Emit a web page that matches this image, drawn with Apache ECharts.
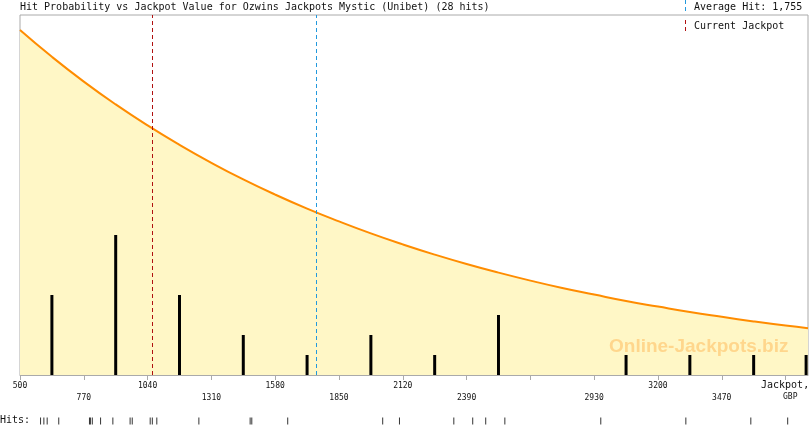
<!DOCTYPE html>
<html><head><meta charset="utf-8">
<script src="https://cdn.jsdelivr.net/npm/echarts@6/dist/echarts.min.js"></script>
<style>html,body{margin:0;padding:0;background:#fff}#c{width:810px;height:425px}</style>
</head><body><div id="c"></div>
<script>
const titleText = 'Hit Probability vs Jackpot Value for Ozwins Jackpots Mystic (Unibet) (28 hits)';
const averageHit = 1755;
const currentJackpot = 1060;
const xMin = 500, xMax = 3835;
const tickValues = [500, 770, 1040, 1310, 1580, 1850, 2120, 2390, 2660, 2930, 3200, 3470, 3740];
const tickLabels = ['500', '770', '1040', '1310', '1580', '1850', '2120', '2390', '', '2930', '3200', '3470', ''];
const binCenters = [635, 905, 1175, 1445, 1715, 1985, 2255, 2525, 3065, 3335, 3605, 3827];
const binCounts = [4, 7, 4, 2, 1, 2, 1, 3, 1, 1, 1, 1];
const curveX = [500, 635, 770, 905, 1040, 1175, 1310, 1445, 1580, 1715, 1850, 1985, 2120, 2255, 2390, 2525, 2660, 2795, 2930, 3065, 3200, 3335, 3470, 3605, 3740, 3835];
const curveY = [17.25, 15.91, 14.67, 13.53, 12.48, 11.51, 10.61, 9.78, 9.02, 8.32, 7.68, 7.08, 6.53, 6.02, 5.55, 5.12, 4.72, 4.35, 4.02, 3.70, 3.42, 3.15, 2.91, 2.68, 2.47, 2.34];
const hitValues = [587, 601, 615, 664, 794, 798, 806, 841, 893, 966, 975, 1051, 1060, 1079, 1257, 1474, 1481, 1633, 2035, 2106, 2336, 2416, 2471, 2552, 2958, 3318, 3593, 3749];

const mono = 'DejaVu Sans Mono';
const chart = echarts.init(document.getElementById('c'), null, {renderer: 'canvas'});
chart.setOption({
  animation: false,
  grid: [
    {left: 20, right: 2, top: 15, bottom: 50, show: true, borderColor: '#aaaaaa', borderWidth: 1, backgroundColor: 'transparent'},
    {left: 20, right: 2, top: 417, height: 8, show: false}
  ],
  xAxis: [
    {type: 'value', gridIndex: 0, min: xMin, max: xMax,
     axisLine: {show: true, lineStyle: {color: '#aaaaaa'}},
     splitLine: {show: false},
     axisTick: {show: true, length: 5, lineStyle: {color: '#aaaaaa'}, customValues: tickValues},
     axisLabel: {show: true, customValues: tickValues, margin: 5, fontFamily: mono, fontSize: 8, color: '#111', lineHeight: 12,
       formatter: function (v) {
         const i = tickValues.indexOf(v);
         if (i < 0) return '';
         return (i % 2 === 1 ? '\n' : '') + tickLabels[i];
       }}},
    {type: 'value', gridIndex: 1, min: xMin, max: xMax, show: false}
  ],
  yAxis: [
    {type: 'value', gridIndex: 0, min: 0, max: 18, show: false, splitLine: {show: false}},
    {type: 'value', gridIndex: 1, min: 0, max: 1, show: false, splitLine: {show: false}}
  ],
  series: [
    {type: 'line', xAxisIndex: 0, yAxisIndex: 0, smooth: 0.5, symbol: 'none', z: 2,
     data: curveX.map((x, i) => [x, curveY[i]]),
     lineStyle: {color: '#ff8c00', width: 2},
     areaStyle: {color: '#fff7c6', opacity: 1},
     markLine: {silent: true, symbol: 'none', label: {show: false},
       data: [
         {xAxis: currentJackpot, lineStyle: {color: '#b01010', type: [4, 3], width: 1}},
         {xAxis: averageHit, lineStyle: {color: '#2299dd', type: [4, 3], width: 1}}
       ]}},
    {type: 'bar', xAxisIndex: 0, yAxisIndex: 0, barWidth: 3, z: 4,
     itemStyle: {color: '#000'},
     data: binCenters.map((x, i) => [x, binCounts[i]])},
    {type: 'scatter', xAxisIndex: 1, yAxisIndex: 1, symbol: 'rect', symbolSize: [1, 7],
     itemStyle: {color: '#000'},
     data: hitValues.map(v => [v, 0.5])}
  ],
  graphic: [
    {type: 'text', left: 20, top: 2, z: 100, style: {text: titleText, font: '10px "DejaVu Sans Mono"', fill: '#111'}},
    {type: 'line', z: 100, shape: {x1: 685.5, y1: 0, x2: 685.5, y2: 12}, style: {stroke: '#2299dd', lineWidth: 1, lineDash: [4, 3]}},
    {type: 'text', left: 694, top: 2, z: 100, style: {text: 'Average Hit: 1,755', font: '10px "DejaVu Sans Mono"', fill: '#111'}},
    {type: 'line', z: 100, shape: {x1: 685.5, y1: 20, x2: 685.5, y2: 33}, style: {stroke: '#b01010', lineWidth: 1, lineDash: [4, 3]}},
    {type: 'text', left: 694, top: 21, z: 100, style: {text: 'Current Jackpot', font: '10px "DejaVu Sans Mono"', fill: '#111'}},
    {type: 'text', left: 609, top: 337, z: 100, style: {text: 'Online-Jackpots.biz', font: 'bold 19px "Liberation Sans"', fill: '#ffd68c'}},
    {type: 'text', left: 761, top: 380, z: 100, style: {text: 'Jackpot,', font: '10px "DejaVu Sans Mono"', fill: '#111'}},
    {type: 'text', left: 783, top: 393, z: 100, style: {text: 'GBP', font: '8px "DejaVu Sans Mono"', fill: '#111'}},
    {type: 'text', left: 0, top: 415, z: 100, style: {text: 'Hits:', font: '10px "DejaVu Sans Mono"', fill: '#111'}}
  ]
});
</script>
</body></html>
